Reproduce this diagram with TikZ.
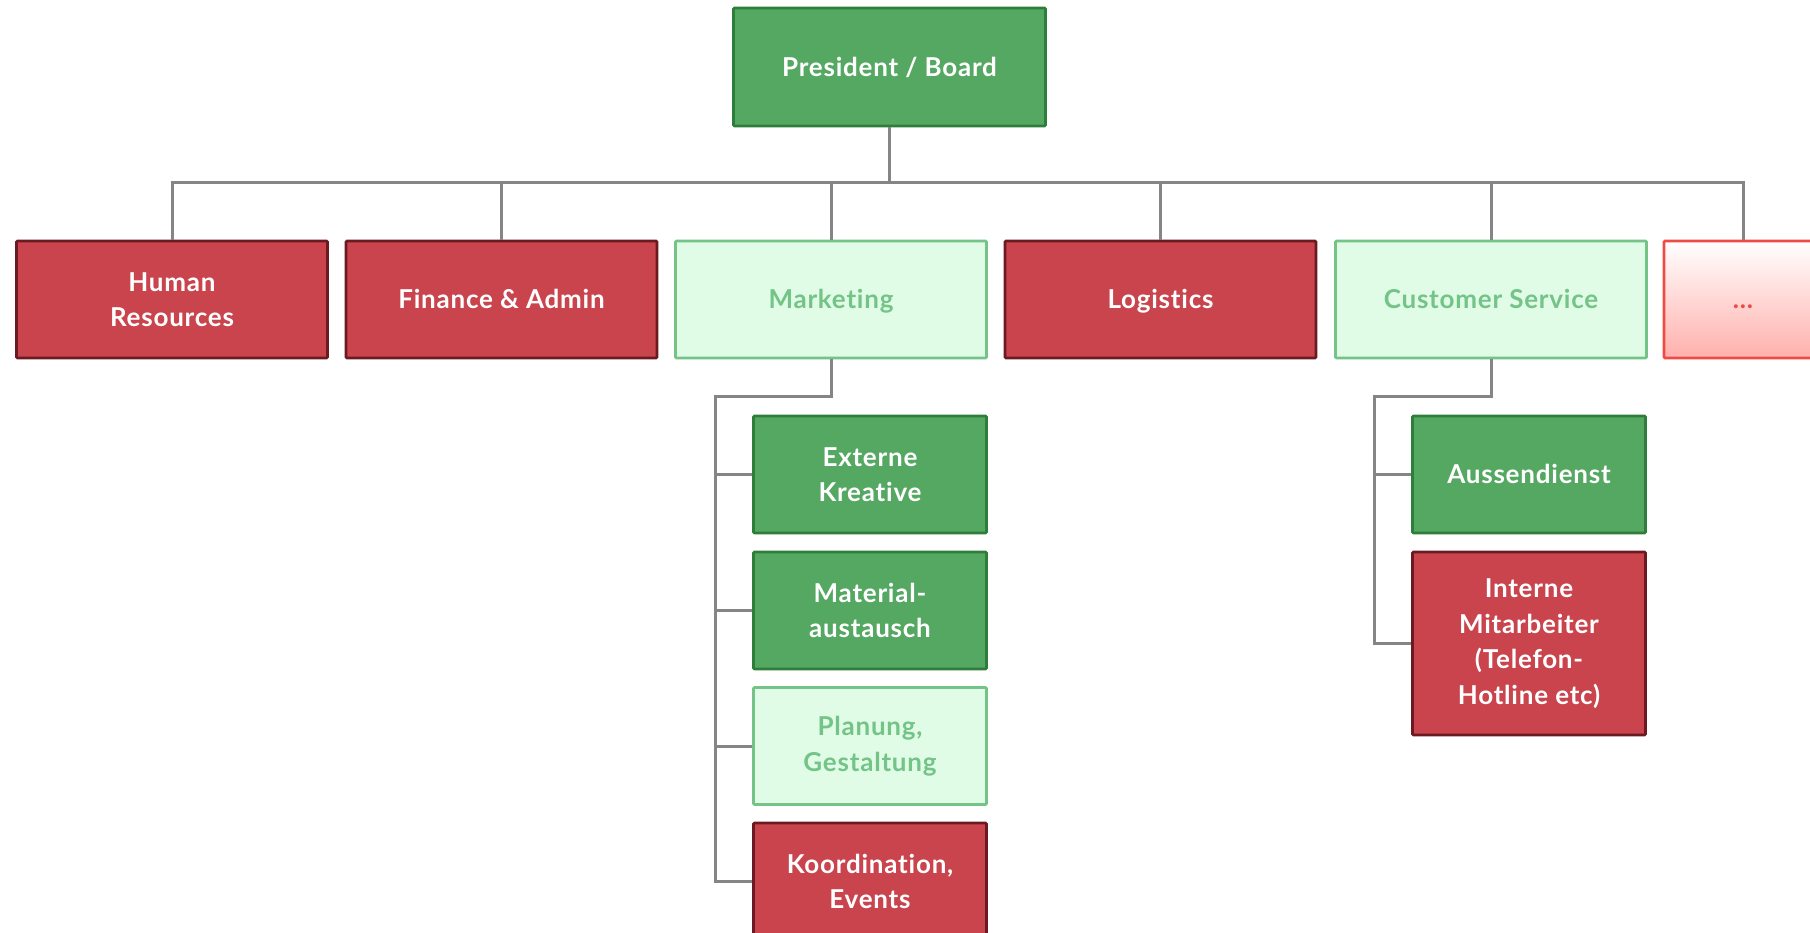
\documentclass[tikz,border=0pt]{standalone}
\usepackage{fontspec}
\setmainfont{Lato}[Ligatures=NoCommon, LetterSpace=3]
\definecolor{gfill}{HTML}{55A862}
\definecolor{gdraw}{HTML}{2F7D3A}
\definecolor{rfill}{HTML}{C9444D}
\definecolor{rdraw}{HTML}{6A1A20}
\definecolor{lfill}{HTML}{E0FCE7}
\definecolor{ldraw}{HTML}{74C387}
\definecolor{connc}{HTML}{858585}
\definecolor{mdraw}{HTML}{EE4B45}
\definecolor{mbot}{HTML}{FFB0AC}
\begin{document}
\begin{tikzpicture}[x=1pt,y=-1pt,
  box/.style={rectangle, rounded corners=1pt, line width=2.6pt, align=center,
    font=\fontsize{26}{35.5}\selectfont\bfseries, inner sep=0pt},
  top/.style={box, minimum width=311pt, minimum height=117pt},
  sub/.style={box, minimum width=233pt, minimum height=117pt},
  oneline/.style={text height=18.7pt, text depth=0pt},
  gbox/.style={fill=gfill, draw=gdraw, text=white},
  rbox/.style={fill=rfill, draw=rdraw, text=white},
  lbox/.style={fill=lfill, draw=ldraw, text=ldraw},
  conn/.style={draw=connc, line width=3pt}]
\clip (0,0) rectangle (1810,932);
\fill[white] (0,0) rectangle (1810,932);

\node[top, gbox, oneline, minimum width=312pt, minimum height=118pt] (pres) at (889.5,67) {President / Board};

\node[top, rbox] (hr)  at (172,299.5)   {Human\\Resources};
\node[top, rbox, oneline] (fin) at (501.5,299.5) {Finance \& Admin};
\node[top, lbox, oneline] (mkt) at (831,299.5)   {Marketing};
\node[top, rbox, oneline] (log) at (1160.5,299.5) {Logistics};
\node[top, lbox, oneline] (cs)  at (1491,299.5)  {Customer Service};
\node[top, oneline, draw=mdraw, top color=white, bottom color=mbot, minimum width=158pt, text=mdraw] (more) at (1743,299.5) {...};

\node[sub, gbox] (ext)   at (870,474.5) {Externe\\Kreative};
\node[sub, gbox] (mat)   at (870,610.5) {Material-\\austausch};
\node[sub, lbox] (plan)  at (870,746)   {Planung,\\Gestaltung};
\node[sub, rbox] (koord) at (870,881.5) {Koordination,\\Events};

\node[sub, gbox, oneline] (aus) at (1529,474.5) {Aussendienst};
\node[sub, rbox, minimum height=183pt] (int) at (1529,643.5) {Interne\\Mitarbeiter\\(Telefon-\\Hotline etc)};

\coordinate (bus) at (0,182.5);
\coordinate (mbus) at (715,396.5);
\coordinate (cbus) at (1374,396.5);

\foreach \n in {hr,fin,mkt,log,cs,more}{
  \draw[conn] (pres.south) -- (pres.south |- bus) -| (\n.north);
}
\foreach \n in {ext,mat,plan,koord}{
  \draw[conn] (mkt.south) |- (mbus) |- (\n.west);
}
\foreach \n in {aus,int}{
  \draw[conn] (cs.south) |- (cbus) |- (\n.west);
}
\end{tikzpicture}
\end{document}
